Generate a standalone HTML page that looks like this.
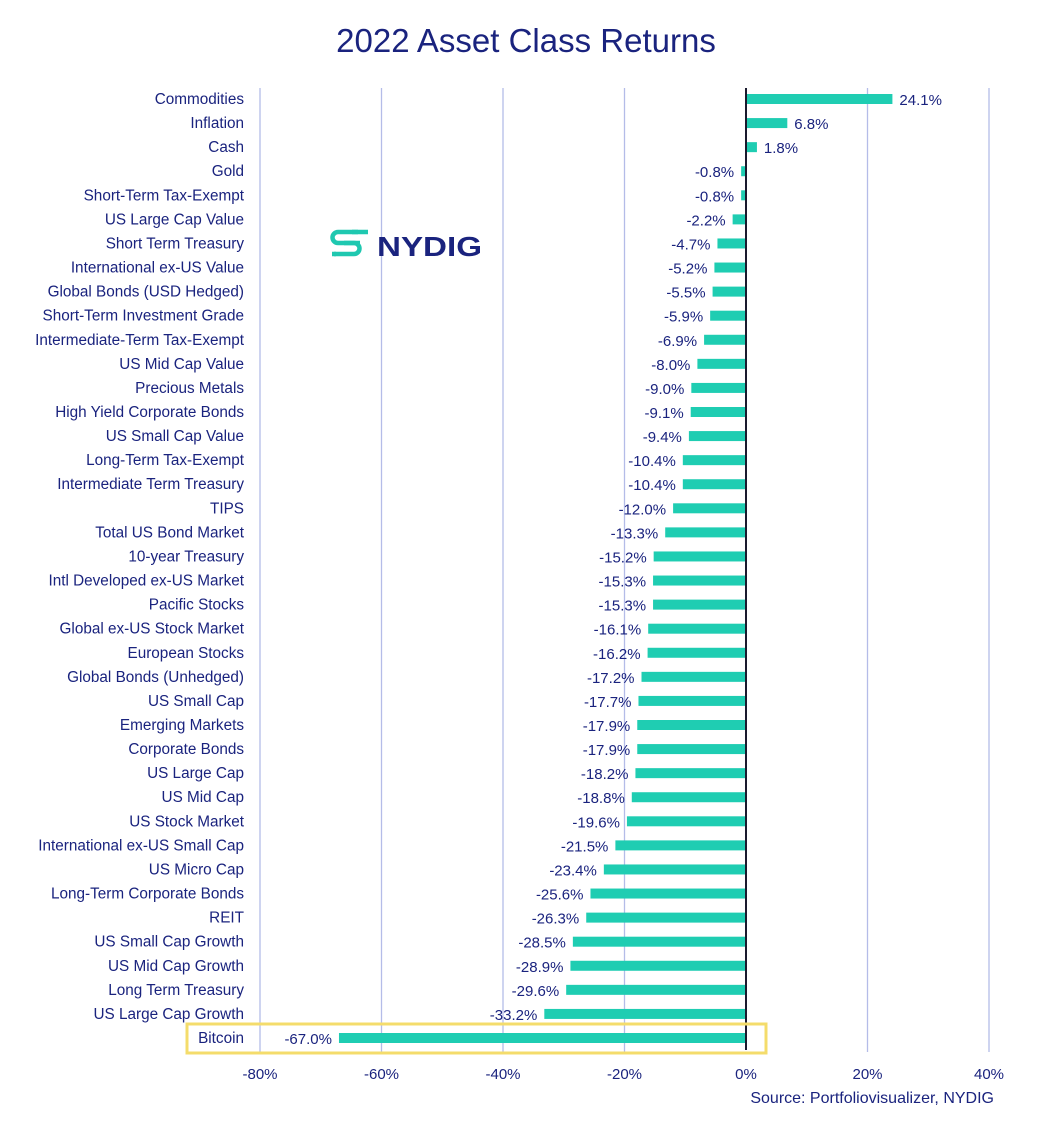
<!DOCTYPE html>
<html><head><meta charset="utf-8"><style>
body{margin:0;background:#fff;width:1052px;height:1125px;overflow:hidden;font-family:"Liberation Sans",sans-serif}
</style></head><body>
<svg id="chart" width="1052" height="1125" xmlns="http://www.w3.org/2000/svg" font-family="Liberation Sans, sans-serif">
<text x="526" y="52" text-anchor="middle" font-size="33" fill="#1a237e">2022 Asset Class Returns</text>
<g id="grid"></g><g id="bars"></g>
<g>
<path d="M358 232 h-20 a5.5 5.5 0 0 0 0 11 h16 a5.5 5.5 0 0 1 0 11 h-20" fill="none" stroke="#1fc8b0" stroke-width="4.5"/>
<path d="M352 232 h16 M336 254 h-4 M344 243 h16" stroke="#1fc8b0" stroke-width="4.5"/>
<text x="377" y="256" font-size="28" font-weight="bold" fill="#1a237e" textLength="105" lengthAdjust="spacingAndGlyphs">NYDIG</text>
</g>
<rect x="187" y="1024" width="579" height="29" fill="none" stroke="#f4dc6b" stroke-width="3"/>
<text x="994" y="1103" text-anchor="end" font-size="16" fill="#1a237e">Source: Portfoliovisualizer, NYDIG</text>
</svg>
<script>
const categories=["Commodities","Inflation","Cash","Gold","Short-Term Tax-Exempt","US Large Cap Value","Short Term Treasury","International ex-US Value","Global Bonds (USD Hedged)","Short-Term Investment Grade","Intermediate-Term Tax-Exempt","US Mid Cap Value","Precious Metals","High Yield Corporate Bonds","US Small Cap Value","Long-Term Tax-Exempt","Intermediate Term Treasury","TIPS","Total US Bond Market","10-year Treasury","Intl Developed ex-US Market","Pacific Stocks","Global ex-US Stock Market","European Stocks","Global Bonds (Unhedged)","US Small Cap","Emerging Markets","Corporate Bonds","US Large Cap","US Mid Cap","US Stock Market","International ex-US Small Cap","US Micro Cap","Long-Term Corporate Bonds","REIT","US Small Cap Growth","US Mid Cap Growth","Long Term Treasury","US Large Cap Growth","Bitcoin"];
const returns=[24.1,6.8,1.8,-0.8,-0.8,-2.2,-4.7,-5.2,-5.5,-5.9,-6.9,-8.0,-9.0,-9.1,-9.4,-10.4,-10.4,-12.0,-13.3,-15.2,-15.3,-15.3,-16.1,-16.2,-17.2,-17.7,-17.9,-17.9,-18.2,-18.8,-19.6,-21.5,-23.4,-25.6,-26.3,-28.5,-28.9,-29.6,-33.2,-67.0];
const ticks=[-80,-60,-40,-20,0,20,40];
const NS="http://www.w3.org/2000/svg";
const x=v=>746+v*6.075;
const y=i=>99+i*(1038-99)/(categories.length-1);
function mk(t,a,p,txt){const e=document.createElementNS(NS,t);for(const k in a)e.setAttribute(k,a[k]);if(txt!=null)e.textContent=txt;p.appendChild(e);return e;}
const grid=document.getElementById('grid'),bars=document.getElementById('bars');
ticks.forEach(t=>{
 if(t!==0){const l=mk('line',{x1:x(t),x2:x(t),y1:88,y2:1052,stroke:'#b4bce8','stroke-width':1.3},grid);
 
 }
 const tx=mk('text',{x:x(t),y:1079,'text-anchor':'middle','font-size':15,fill:'#1a237e'},grid,t+'%');
 
 
});
categories.forEach((c,i)=>{
 const v=returns[i],x0=Math.min(x(0),x(v)),w=Math.abs(x(v)-x(0));
 const r=mk('rect',{x:x0,y:y(i)-5,width:w,height:10,fill:'#1fcdb2'},bars);
 
 
 const lb=mk('text',{x:244,y:y(i)+5,'text-anchor':'end','font-size':15.3,fill:'#1a237e'},bars,c);
 
 
 const vl=mk('text',{x:v>=0?x(v)+7:x(v)-7,y:y(i)+6,'text-anchor':v>=0?'start':'end','font-size':15,fill:'#1a237e'},bars,v.toFixed(1)+'%');
 
 
});
const z=mk('line',{x1:746,x2:746,y1:88,y2:1050,stroke:'#1a1a2e','stroke-width':2},bars);


</script>
</body></html>
